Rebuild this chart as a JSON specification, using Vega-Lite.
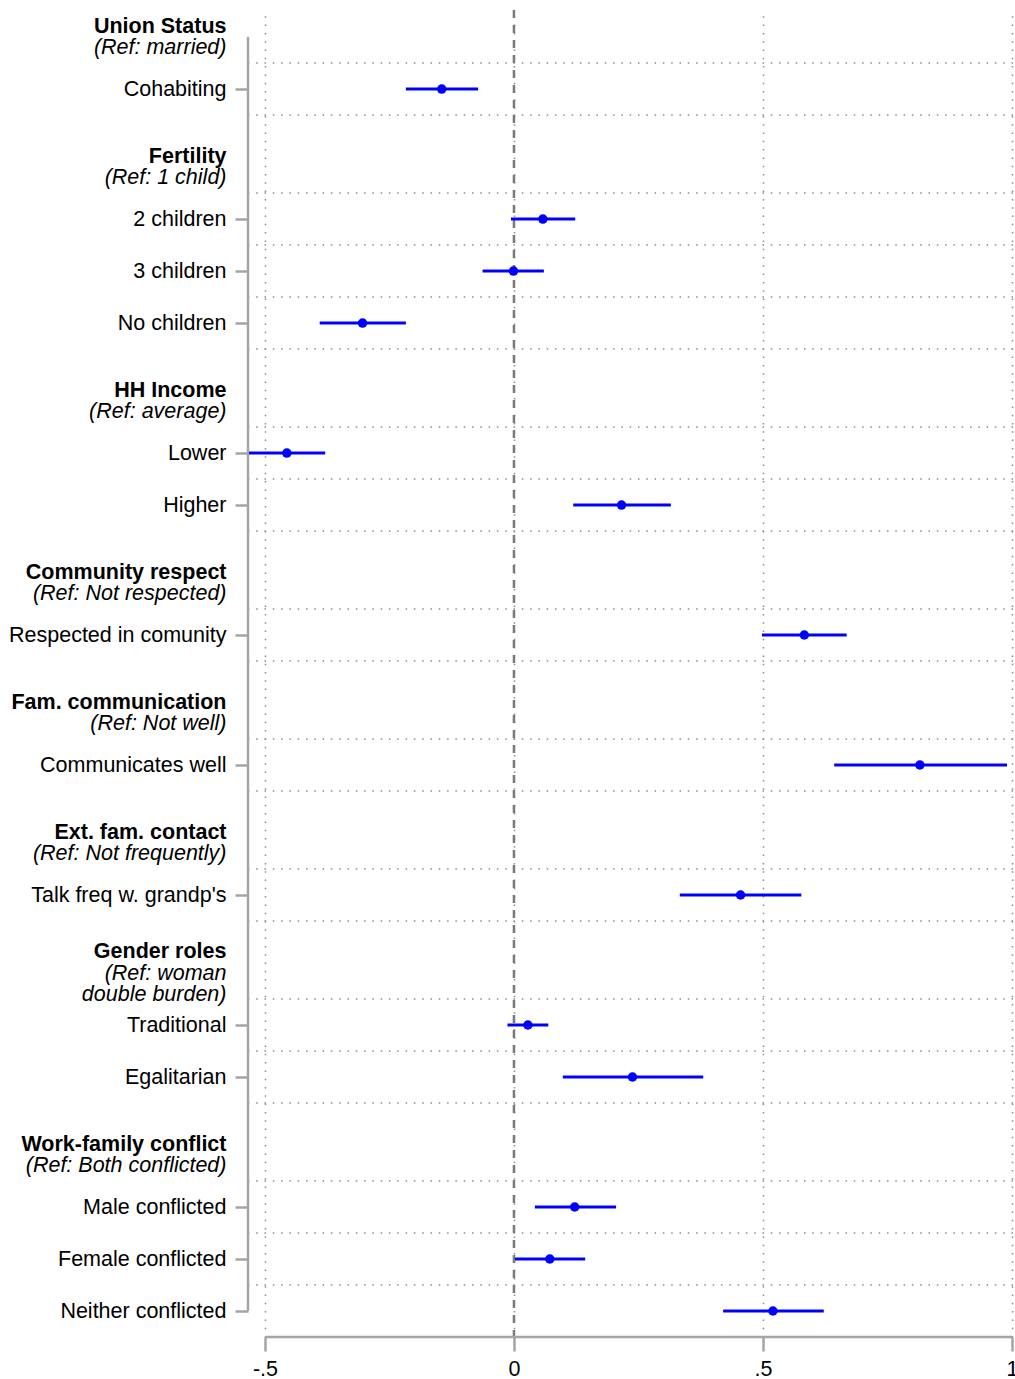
{
  "$schema": "https://vega.github.io/schema/vega-lite/v6.json",
  "width": 765,
  "height": 1327,
  "autosize": {"type": "none"},
  "padding": {"left": 248, "top": 10, "right": 2, "bottom": 42},
  "background": "white",
  "config": {"view": {"stroke": null}, "font": "Liberation Sans"},
  "datasets": {
    "coef": [
      {"group": "Union Status", "label": "Cohabiting", "pos": 0, "est": -0.145, "lo": -0.217, "hi": -0.072},
      {"group": "Fertility", "label": "2 children", "pos": 2.5, "est": 0.058, "lo": -0.006, "hi": 0.123},
      {"group": "Fertility", "label": "3 children", "pos": 3.5, "est": -0.001, "lo": -0.063, "hi": 0.060},
      {"group": "Fertility", "label": "No children", "pos": 4.5, "est": -0.304, "lo": -0.390, "hi": -0.217},
      {"group": "HH Income", "label": "Lower", "pos": 7, "est": -0.456, "lo": -0.532, "hi": -0.379},
      {"group": "HH Income", "label": "Higher", "pos": 8, "est": 0.216, "lo": 0.119, "hi": 0.315},
      {"group": "Community respect", "label": "Respected in comunity", "pos": 10.5, "est": 0.583, "lo": 0.498, "hi": 0.668},
      {"group": "Fam. communication", "label": "Communicates well", "pos": 13, "est": 0.815, "lo": 0.643, "hi": 0.990},
      {"group": "Ext. fam. contact", "label": "Talk freq w. grandp's", "pos": 15.5, "est": 0.455, "lo": 0.333, "hi": 0.577},
      {"group": "Gender roles", "label": "Traditional", "pos": 18, "est": 0.028, "lo": -0.013, "hi": 0.069},
      {"group": "Gender roles", "label": "Egalitarian", "pos": 19, "est": 0.238, "lo": 0.098, "hi": 0.380},
      {"group": "Work-family conflict", "label": "Male conflicted", "pos": 21.5, "est": 0.122, "lo": 0.042, "hi": 0.205},
      {"group": "Work-family conflict", "label": "Female conflicted", "pos": 22.5, "est": 0.072, "lo": 0.002, "hi": 0.143},
      {"group": "Work-family conflict", "label": "Neither conflicted", "pos": 23.5, "est": 0.520, "lo": 0.420, "hi": 0.622}
    ],
    "grid": [
      {"pos": -0.5}, {"pos": 0.5}, {"pos": 2}, {"pos": 3}, {"pos": 4}, {"pos": 5},
      {"pos": 6.5}, {"pos": 7.5}, {"pos": 8.5}, {"pos": 10}, {"pos": 11}, {"pos": 12.5},
      {"pos": 13.5}, {"pos": 15}, {"pos": 16}, {"pos": 17.5}, {"pos": 18.5}, {"pos": 19.5},
      {"pos": 21}, {"pos": 22}, {"pos": 23}
    ],
    "one": [{}]
  },
  "layer": [
    {
      "data": {"name": "grid"},
      "mark": {"type": "rule", "color": "#8c8c8c", "strokeWidth": 1.5, "strokeDash": [1.5, 6.8]},
      "encoding": {
        "y": {
          "field": "pos",
          "type": "quantitative",
          "scale": {"domain": [-1.52, 24], "reverse": true, "nice": false, "zero": false},
          "axis": {
            "title": null,
            "domain": false,
            "grid": false,
            "values": [-1.205, -0.795, 0, 1.295, 1.705, 2.5, 3.5, 4.5, 5.795, 6.205, 7, 8, 9.295, 9.705, 10.5, 11.795, 12.205, 13, 14.295, 14.705, 15.5, 16.58, 17, 17.42, 18, 19, 20.295, 20.705, 21.5, 22.5, 23.5],
            "labelExpr": "['Union Status','(Ref: married)','Cohabiting','Fertility','(Ref: 1 child)','2 children','3 children','No children','HH Income','(Ref: average)','Lower','Higher','Community respect','(Ref: Not respected)','Respected in comunity','Fam. communication','(Ref: Not well)','Communicates well','Ext. fam. contact','(Ref: Not frequently)',\"Talk freq w. grandp's\",'Gender roles','(Ref: woman\u00a0','double burden)','Traditional','Egalitarian','Work-family conflict','(Ref: Both conflicted)','Male conflicted','Female conflicted','Neither conflicted'][indexof([-1.205, -0.795, 0, 1.295, 1.705, 2.5, 3.5, 4.5, 5.795, 6.205, 7, 8, 9.295, 9.705, 10.5, 11.795, 12.205, 13, 14.295, 14.705, 15.5, 16.58, 17, 17.42, 18, 19, 20.295, 20.705, 21.5, 22.5, 23.5], datum.value)]",
            "labelFontWeight": {"condition": {"test": "indexof([-1.205, 1.295, 5.795, 9.295, 11.795, 14.295, 16.58, 20.295], datum.value) >= 0", "value": "bold"}, "value": "normal"},
            "labelFontStyle": {"condition": {"test": "indexof([-0.795, 1.705, 6.205, 9.705, 12.205, 14.705, 17, 17.42, 20.705], datum.value) >= 0", "value": "italic"}, "value": "normal"},
            "tickOpacity": {"condition": {"test": "indexof([0, 2.5, 3.5, 4.5, 7, 8, 10.5, 13, 15.5, 18, 19, 21.5, 22.5, 23.5], datum.value) >= 0", "value": 1}, "value": 0},
            "ticks": true,
            "tickSize": 13,
            "tickWidth": 2.5,
            "tickColor": "#a5a5a5",
            "labelPadding": 9,
            "labelFont": "Liberation Sans",
            "labelFontSize": 21.5,
            "labelColor": "#000000",
            "labelBaseline": "middle",
            "labelOverlap": false,
            "labelFlush": false,
            "labelBound": false,
            "labelLimit": 400
          }
        }
      }
    },
    {
      "data": {"name": "one"},
      "mark": {"type": "rule", "color": "#7a7a7a", "strokeWidth": 2.5, "strokeDash": [8, 7]},
      "encoding": {
        "x": {
          "datum": 0,
          "type": "quantitative",
          "scale": {"domain": [-0.534, 1.002], "nice": false, "zero": false},
          "axis": {
            "title": null,
            "domain": false,
            "values": [-0.5, 0, 0.5, 1],
            "labelExpr": "datum.value == 0 ? '0' : datum.value == 1 ? '1' : datum.value < 0 ? '-.5' : '.5'",
            "grid": true,
            "gridColor": "#8c8c8c",
            "gridWidth": 1.5,
            "gridDash": [1.5, 6.8],
            "ticks": true,
            "tickSize": 14,
            "tickWidth": 2.5,
            "tickColor": "#a5a5a5",
            "labelPadding": 7,
            "labelFont": "Liberation Sans",
            "labelFontSize": 21.5,
            "labelColor": "#000000",
            "labelFlush": false,
            "labelOverlap": false,
            "labelBound": false
          }
        }
      }
    },
    {
      "data": {"name": "one"},
      "mark": {"type": "rule", "color": "#a5a5a5", "strokeWidth": 2.5},
      "encoding": {
        "x": {"datum": -0.534, "type": "quantitative"},
        "y": {"datum": -1, "type": "quantitative"},
        "y2": {"datum": 23.5}
      }
    },
    {
      "data": {"name": "one"},
      "mark": {"type": "rule", "color": "#a5a5a5", "strokeWidth": 2.5},
      "encoding": {
        "y": {"datum": 24, "type": "quantitative"},
        "x": {"datum": -0.5, "type": "quantitative"},
        "x2": {"datum": 1}
      }
    },
    {
      "data": {"name": "coef"},
      "mark": {"type": "rule", "color": "#0000ff", "strokeWidth": 3},
      "encoding": {
        "y": {"field": "pos", "type": "quantitative"},
        "x": {"field": "lo", "type": "quantitative"},
        "x2": {"field": "hi"}
      }
    },
    {
      "data": {"name": "coef"},
      "mark": {"type": "point", "filled": true, "color": "#0000ff", "size": 90, "opacity": 1},
      "encoding": {
        "y": {"field": "pos", "type": "quantitative"},
        "x": {"field": "est", "type": "quantitative"},
        "tooltip": [{"field": "group"}, {"field": "label"}, {"field": "est"}, {"field": "lo"}, {"field": "hi"}]
      }
    }
  ]
}
